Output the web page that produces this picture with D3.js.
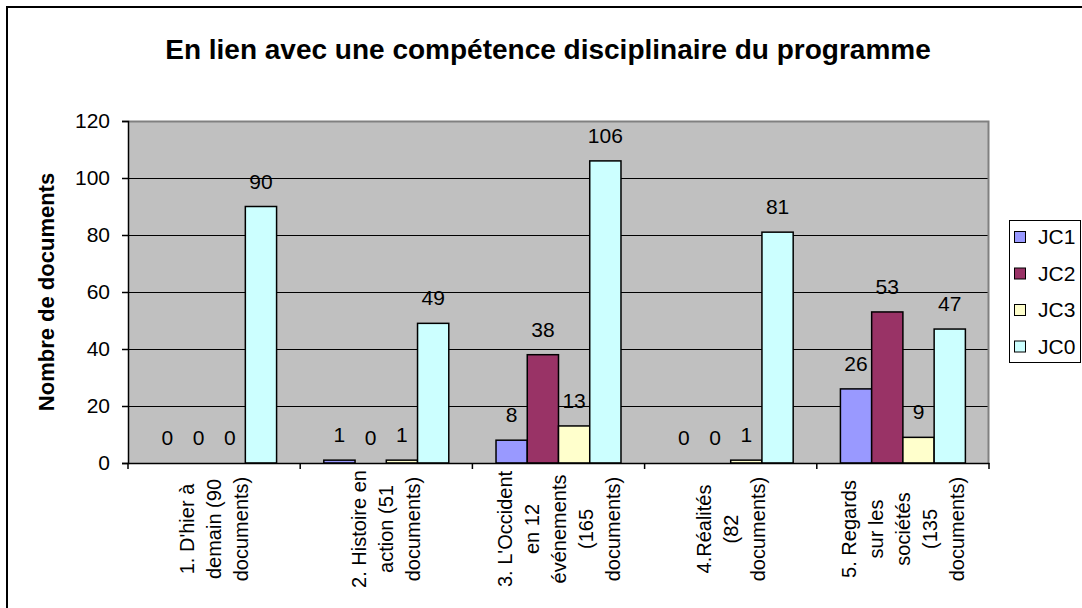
<!DOCTYPE html>
<html>
<head>
<meta charset="utf-8">
<script src="https://cdn.jsdelivr.net/npm/d3@7"></script>
<style>
  html, body { margin: 0; padding: 0; background: #ffffff; }
  svg { display: block; font-family: "Liberation Sans", Arial, sans-serif; }
</style>
</head>
<body>
<svg id="chart" width="1082" height="608"></svg>
<script>
// ---- Data ----
const categories = ["1", "2", "3", "4", "5"];
const categoryLines = [
  ["1. D'hier à", "demain (90", "documents)"],
  ["2. Histoire en", "action (51", "documents)"],
  ["3. L'Occident", "en 12", "événements", "(165", "documents)"],
  ["4.Réalités", "(82", "documents)"],
  ["5. Regards", "sur les", "sociétés", "(135", "documents)"]
];
const seriesNames = ["JC1", "JC2", "JC3", "JC0"];
const JC1 = [0, 1, 8, 0, 26];
const JC2 = [0, 0, 38, 0, 53];
const JC3 = [0, 1, 13, 1, 9];
const JC0 = [90, 49, 106, 81, 47];
const seriesColors = ["#9999FF", "#993366", "#FFFFCC", "#CCFFFF"];
const yTicks = [0, 20, 40, 60, 80, 100, 120];
const titleText = "En lien avec une compétence disciplinaire du programme";
const yTitleText = "Nombre de documents";

const seriesValues = [JC1, JC2, JC3, JC0];
const rows = categories.map((c, i) => ({
  cat: c,
  vals: seriesNames.map((s, j) => ({ series: s, value: seriesValues[j][i], color: seriesColors[j] }))
}));

// ---- Layout ----
const svg = d3.select("#chart");
const plot = { left: 128, right: 989, top: 121, bottom: 463 };

svg.append("rect").attr("x", 0).attr("y", 0).attr("width", 1082).attr("height", 608).attr("fill", "#fff");
// outer chart border (extends past the window on right and bottom)
svg.append("rect").attr("x", 7).attr("y", 7).attr("width", 1100).attr("height", 640)
  .attr("fill", "none").attr("stroke", "#000").attr("stroke-width", 2);

const x0 = d3.scaleBand().domain(categories).range([plot.left, plot.right]).paddingInner(0).paddingOuter(0);
const x1 = d3.scaleBand().domain(seriesNames).range([0, x0.bandwidth()]).paddingInner(0).paddingOuter(0.756);
const y = d3.scaleLinear().domain([0, 120]).range([plot.bottom, plot.top]);

// plot background
svg.append("rect").attr("x", plot.left).attr("y", plot.top)
  .attr("width", plot.right - plot.left).attr("height", plot.bottom - plot.top)
  .attr("fill", "#C0C0C0");

// gridlines
svg.append("g").selectAll("line").data(yTicks.filter(t => t > 0 && t < 120)).join("line")
  .attr("x1", plot.left).attr("x2", plot.right)
  .attr("y1", d => y(d) + 0.5).attr("y2", d => y(d) + 0.5)
  .attr("stroke", "#000").attr("stroke-width", 1);

// plot border top/right (gray)
svg.append("path")
  .attr("d", `M${plot.left},${plot.top + 0.5}H${plot.right - 0.5}V${plot.bottom}`)
  .attr("fill", "none").attr("stroke", "#808080").attr("stroke-width", 2);

// bars
const groups = svg.append("g").selectAll("g").data(rows).join("g")
  .attr("transform", d => `translate(${x0(d.cat)},0)`);
groups.selectAll("rect").data(d => d.vals).join("rect")
  .attr("x", d => x1(d.series))
  .attr("y", d => y(d.value))
  .attr("width", x1.bandwidth())
  .attr("height", d => y(0) - y(d.value))
  .attr("fill", d => d.color)
  .attr("stroke", "#000").attr("stroke-width", 1.5);

// value labels
groups.selectAll("text").data(d => d.vals).join("text")
  .attr("x", d => x1(d.series) + x1.bandwidth() / 2)
  .attr("y", d => y(d.value) - 18)
  .attr("text-anchor", "middle")
  .attr("font-size", 21)
  .attr("fill", "#000")
  .text(d => d.value);

// y axis
const yAxis = d3.axisLeft(y).tickValues(yTicks).tickSize(6).tickPadding(12).tickFormat(d3.format("d"));
const yg = svg.append("g").attr("transform", `translate(${plot.left},0)`).call(yAxis);
yg.select(".domain").attr("stroke", "#000").attr("stroke-width", 1.5);
yg.selectAll(".tick line").attr("stroke", "#000").attr("stroke-width", 1.5);
yg.selectAll(".tick text").attr("font-size", 21).attr("fill", "#000")
  .attr("font-family", "'Liberation Sans', Arial, sans-serif");

// x axis
const xAxis = d3.axisBottom(x0).tickSize(0).tickFormat("");
const xg = svg.append("g").attr("transform", `translate(0,${plot.bottom})`).call(xAxis);
xg.select(".domain").attr("stroke", "#000").attr("stroke-width", 1.5);
// category boundary ticks
const bounds = categories.map(c => x0(c)).concat([plot.right]);
xg.selectAll(".bound").data(bounds).join("line").attr("class", "bound")
  .attr("x1", d => d).attr("x2", d => d).attr("y1", 0).attr("y2", 6)
  .attr("stroke", "#000").attr("stroke-width", 1.5);

// category labels (rotated, multi-line, centered)
const labelCenterY = 529;
const lineGap = 27;
categories.forEach((c, i) => {
  const lines = categoryLines[i];
  const cx = x0(c) + x0.bandwidth() / 2;
  const n = lines.length;
  lines.forEach((ln, k) => {
    const bx = cx + 7 + (k - (n - 1) / 2) * lineGap;
    svg.append("text")
      .attr("transform", `translate(${bx},${labelCenterY}) rotate(-90)`)
      .attr("text-anchor", "middle")
      .attr("font-size", 20)
      .attr("fill", "#000")
      .text(ln);
  });
});

// title
svg.append("text").attr("x", 548).attr("y", 59)
  .attr("text-anchor", "middle").attr("font-size", 28).attr("font-weight", "bold")
  .attr("fill", "#000").text(titleText);

// y title
svg.append("text")
  .attr("transform", `translate(54,${(plot.top + plot.bottom) / 2}) rotate(-90)`)
  .attr("text-anchor", "middle").attr("font-size", 22).attr("font-weight", "bold")
  .attr("fill", "#000").text(yTitleText);

// legend
const legend = svg.append("g");
const legY0 = 237, legStep = 36.5;
legend.append("rect").attr("x", 1009.5).attr("y", 220.5).attr("width", 71).attr("height", 142)
  .attr("fill", "#fff").attr("stroke", "#000").attr("stroke-width", 1);
const li = legend.selectAll("g").data(seriesNames).join("g")
  .attr("transform", (d, i) => `translate(0,${legY0 + i * legStep})`);
li.append("rect").attr("x", 1014.5).attr("y", -5.5).attr("width", 11).attr("height", 11)
  .attr("fill", (d, i) => seriesColors[i]).attr("stroke", "#000").attr("stroke-width", 1);
li.append("text").attr("x", 1038).attr("y", 0).attr("dy", "0.35em")
  .attr("font-size", 21).attr("fill", "#000").text(d => d);
</script>
</body>
</html>
